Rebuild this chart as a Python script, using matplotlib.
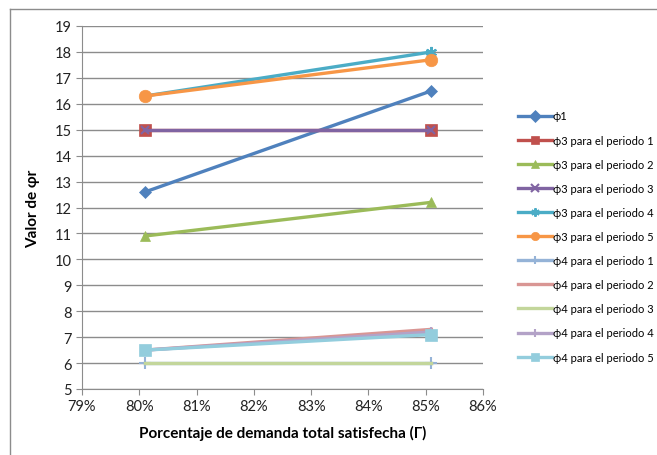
import matplotlib
matplotlib.use("Agg")
import matplotlib.pyplot as plt
from matplotlib.lines import Line2D
from matplotlib.ticker import PercentFormatter, MultipleLocator

plt.rcParams['font.family'] = ['Lato', 'DejaVu Sans']

# porcentaje de demanda satisfecha (eje x)
gamma = [0.801, 0.851]

labels = [
    "ϕ1",
    "ϕ3 para el periodo 1",
    "ϕ3 para el periodo 2",
    "ϕ3 para el periodo 3",
    "ϕ3 para el periodo 4",
    "ϕ3 para el periodo 5",
    "ϕ4 para el periodo 1",
    "ϕ4 para el periodo 2",
    "ϕ4 para el periodo 3",
    "ϕ4 para el periodo 4",
    "ϕ4 para el periodo 5",
]

phi1 = [12.6, 16.5]
phi3_p1 = [15.0, 15.0]
phi3_p2 = [10.9, 12.2]
phi3_p3 = [15.0, 15.0]
phi3_p4 = [16.3, 18.0]
phi3_p5 = [16.3, 17.7]
phi4_p1 = [6.0, 6.0]
phi4_p2 = [6.5, 7.3]
phi4_p3 = [6.0, 6.0]
phi4_p4 = [6.5, 7.2]
phi4_p5 = [6.5, 7.1]

series = [phi1, phi3_p1, phi3_p2, phi3_p3, phi3_p4, phi3_p5,
          phi4_p1, phi4_p2, phi4_p3, phi4_p4, phi4_p5]

# colores tipo Office 2007
colors = ["#4F81BD", "#C0504D", "#9BBB59", "#8064A2", "#4BACC6", "#F79646",
          "#95B3D7", "#D99694", "#C3D69B", "#B3A2C7", "#93CDDD"]
markers = ["D", "s", "^", "x", (6, 2, 0), "o", "+", "None", "None", "+", "s"]
msizes = [6, 8, 7, 6, 8, 9, 9, 0, 0, 7, 9]

fig = plt.figure(figsize=(6.57, 4.56), dpi=100)
ax = fig.add_axes([82 / 657, 1 - 390 / 456, (483 - 82) / 657, (390 - 27) / 456])

for vals, lab, c, m, ms in zip(series, labels, colors, markers, msizes):
    ax.plot(gamma, vals, color=c, lw=2.4, marker=m, markersize=ms,
            markeredgewidth=1.5 if m in ("x", "+", (6, 2, 0)) else 0.5,
            markeredgecolor=c, markerfacecolor=c, label=lab, zorder=3)

ax.set_xlim(0.79, 0.86)
ax.set_ylim(5, 19)
ax.xaxis.set_major_locator(MultipleLocator(0.01))
ax.xaxis.set_major_formatter(PercentFormatter(1.0, decimals=0))
ax.yaxis.set_major_locator(MultipleLocator(1))

ax.grid(axis='y', color="#8C8C8C", lw=1.0)
ax.set_axisbelow(True)
for s in ("top", "right"):
    ax.spines[s].set_visible(False)
for s in ("left", "bottom"):
    ax.spines[s].set_color("#8C8C8C")
ax.tick_params(colors="#8C8C8C", length=4, direction='out', labelcolor="#222222",
               labelsize=10.5)

ax.set_xlabel("Porcentaje de demanda total satisfecha (Γ)", fontsize=11,
              fontweight='bold', labelpad=8)
ax.set_ylabel("Valor de φr", fontsize=11, fontweight='bold', labelpad=10)

leg = fig.legend(loc='upper left', bbox_to_anchor=(514 / 657, 1 - 107 / 456),
                 frameon=False, fontsize=8, handlelength=3.0, handletextpad=0.1,
                 labelspacing=1.18, borderaxespad=0)
for h in leg.legend_handles:
    h.set_markersize(min(h.get_markersize(), 6))

# borde del area del grafico
fig.add_artist(Line2D([10 / 657, 10 / 657], [0, 1 - 10 / 456],
                      transform=fig.transFigure, color="#8C8C8C", lw=1))
fig.add_artist(Line2D([10 / 657, 1], [1 - 10 / 456, 1 - 10 / 456],
                      transform=fig.transFigure, color="#8C8C8C", lw=1))

fig.savefig("out.png", dpi=100)
